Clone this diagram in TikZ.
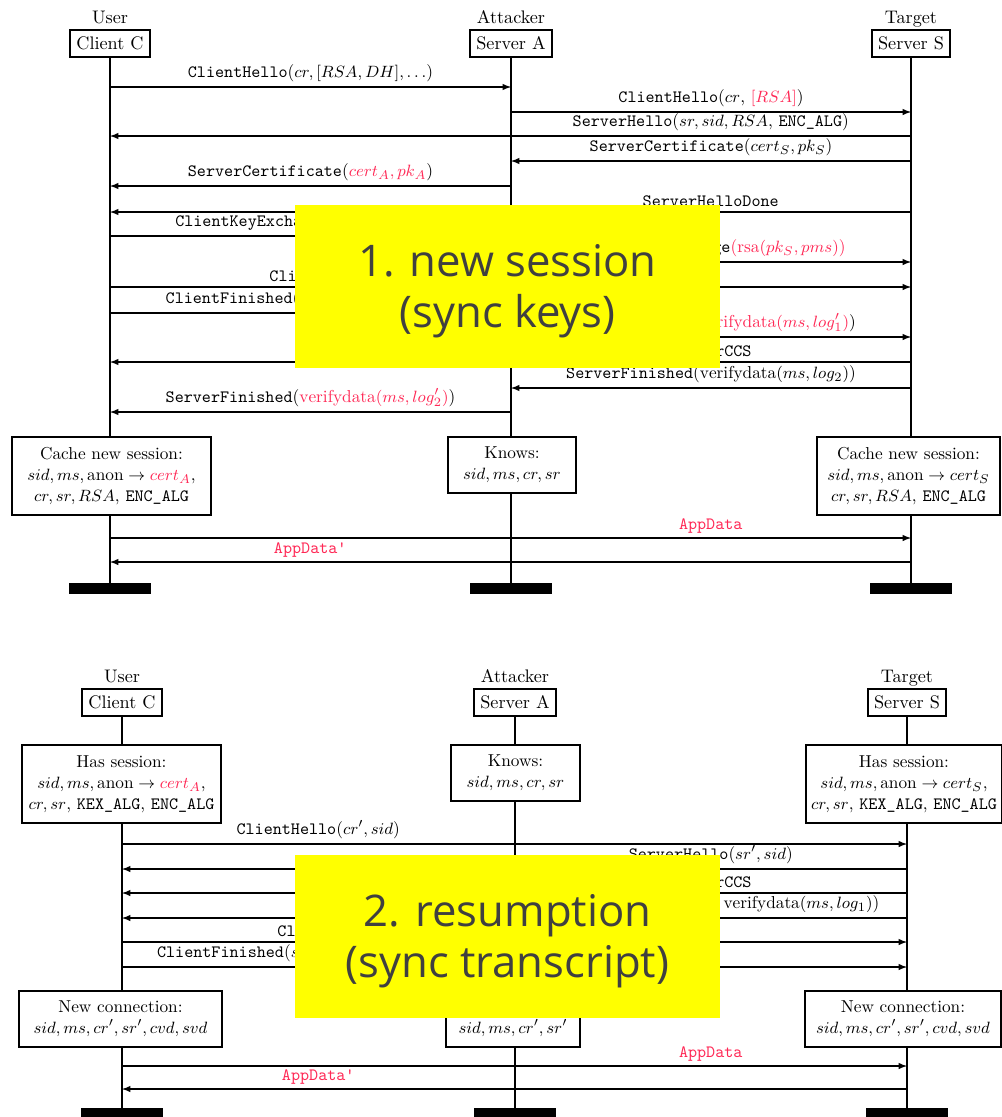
\documentclass[tikz,border=0pt]{standalone}
\usepackage{amsmath,amssymb}
\usepackage{fontspec}
\newfontfamily\notefont{Open Sans}
\usepackage{xcolor}
\usepackage{tikz}
\usetikzlibrary{positioning, calc}
\definecolor{evil}{RGB}{255,40,85}
\definecolor{stickie}{RGB}{255,255,0}
\definecolor{stickietext}{RGB}{64,64,64}
\newcommand{\evil}[1]{\textcolor{evil}{#1}}
\newcommand{\msgname}[1]{\texttt{#1}}
\newcommand{\lblsize}{\fontsize{9.5}{11.5}\selectfont}

\begin{document}
\begin{tikzpicture}[
    x = 0.55pt, y = -0.55pt, > = latex,
    agent/.style = {
      rectangle, draw, line width = 1pt, inner xsep = 3.5pt, inner ysep = 0pt,
      minimum height = 15pt, font = \fontsize{10}{12}\selectfont
    },
    role/.style = {
      inner sep = 3pt, text height = 7pt, text depth = 2pt,
      font = \fontsize{10}{12}\selectfont
    },
    lifeline/.style = {line width = 1pt},
    state/.style = {
      rectangle, draw, line width = 1pt, fill = white, align = center,
      inner sep = 3pt, font = \lblsize
    },
    endbar/.style = {
      rectangle, fill = black, inner sep = 0pt,
      minimum width = 45pt, minimum height = 6pt
    },
    msg/.style = {->, semithick},
    lbl/.style = {above, inner sep = 2.5pt, font = \lblsize},
    sticky/.style = {
      rectangle, fill = stickie, inner sep = 0pt,
      minimum width = 233.75pt, minimum height = 89.65pt
    },
    stickytext/.style = {
      text = stickietext, align = center, inner sep = 0pt,
      font = \notefont\fontsize{24}{28}\selectfont
    },
    ]

    \useasboundingbox (0,0) rectangle (1002,1117);

    % ---------------- 1. new session ----------------
    % draw agents
    \foreach \n/\x/\r/\t in {C1/110/User/Client C, A1/511/Attacker/Server A, S1/911/Target/Server S} {
      \node  [agent]  (\n)  at (\x,43.5)  {\t};
      \node  [role]  (\n role)  [above = -2pt of \n]  {\r};
      \node  [endbar]  (\n bar)  at (\x,588.5)  {};
      \draw  [lifeline]  (\n)  --  (\n bar);
    }

    % draw handshake
    \draw  [msg]  (C1 |- 0,87)  to node  [lbl]  {\msgname{ClientHello}($cr, [RSA, DH], \ldots$)}  (A1 |- 0,87);
    \draw  [msg]  (A1 |- 0,112)  to node  [lbl]  {\msgname{ClientHello}($cr$, \evil{$[RSA]$})}  (S1 |- 0,112);
    \draw  [msg]  (S1 |- 0,136)  to node  [lbl, pos = .25]  {\msgname{ServerHello}($sr, sid, RSA$, \msgname{ENC\_ALG})}  (C1 |- 0,136);
    \draw  [msg]  (S1 |- 0,161)  to node  [lbl]  {\msgname{ServerCertificate}($cert_S, pk_S$)}  (A1 |- 0,161);
    \draw  [msg]  (A1 |- 0,186)  to node  [lbl]  {\msgname{ServerCertificate}(\evil{$cert_A, pk_A$})}  (C1 |- 0,186);
    \draw  [msg]  (S1 |- 0,212)  to node  [lbl, pos = .25]  {\msgname{ServerHelloDone}}  (C1 |- 0,212);
    \draw  [msg]  (C1 |- 0,236)  to node  [lbl]  {\msgname{ClientKeyExchange}(\evil{$\mathrm{rsa}(pk_A, pms)$})}  (A1 |- 0,236);
    \draw  [msg]  (A1 |- 0,262)  to node  [lbl]  {\msgname{ClientKeyExchange}\evil{($\mathrm{rsa}(pk_S, pms)$)}}  (S1 |- 0,262);
    \draw  [msg]  (C1 |- 0,287)  to node  [lbl, pos = .25]  {\msgname{ClientCCS}}  (S1 |- 0,287);
    \draw  [msg]  (C1 |- 0,313)  to node  [lbl]  {\msgname{ClientFinished}($\mathrm{verifydata}(ms, log_1)$)}  (A1 |- 0,313);
    \draw  [msg]  (A1 |- 0,337)  to node  [lbl]  {\msgname{ClientFinished}(\evil{$\mathrm{verifydata}(ms, log'_1)$})}  (S1 |- 0,337);
    \draw  [msg]  (S1 |- 0,362)  to node  [lbl, pos = .25]  {\msgname{ServerCCS}}  (C1 |- 0,362);
    \draw  [msg]  (S1 |- 0,388)  to node  [lbl]  {\msgname{ServerFinished}($\mathrm{verifydata}(ms, log_2)$)}  (A1 |- 0,388);
    \draw  [msg]  (A1 |- 0,412)  to node  [lbl]  {\msgname{ServerFinished}(\evil{$\mathrm{verifydata}(ms, log'_2)$})}  (C1 |- 0,412);

    % draw session states
    \node  [state, minimum width = 109.5pt, minimum height = 43pt]  (C1cache)  at (111.5,476)
      {Cache new session:\\ $sid, ms, \mathrm{anon} \rightarrow \evil{cert_A}$,\\ $cr, sr, RSA$, \msgname{ENC\_ALG}};
    \node  [state, minimum width = 70.4pt, minimum height = 30.8pt]  (A1knows)  at (512,465)
      {Knows:\\ $sid, ms, cr, sr$};
    \node  [state, minimum width = 100.7pt, minimum height = 43pt]  (S1cache)  at (908.5,476)
      {Cache new session:\\ $sid, ms, \mathrm{anon} \rightarrow cert_S$\\ $cr, sr, RSA$, \msgname{ENC\_ALG}};

    % draw application data
    \draw  [msg]  (C1 |- 0,538)  to node  [lbl, pos = .75]  {\evil{\msgname{AppData}}}  (S1 |- 0,538);
    \draw  [msg]  (S1 |- 0,562)  to node  [lbl, pos = .75]  {\evil{\msgname{AppData'}}}  (C1 |- 0,562);

    % ---------------- 2. resumption ----------------
    % draw agents
    \foreach \n/\x/\r/\t in {C2/122/User/Client C, A2/515/Attacker/Server A, S2/907/Target/Server S} {
      \node  [agent]  (\n)  at (\x,702.5)  {\t};
      \node  [role]  (\n role)  [above = -2pt of \n]  {\r};
      \node  [endbar]  (\n bar)  at (\x,1113.5)  {};
      \draw  [lifeline]  (\n)  --  (\n bar);
    }

    % draw session states
    \node  [state, minimum width = 109.5pt, minimum height = 43pt]  (C2has)  at (121.5,784)
      {Has session:\\ $sid, ms, \mathrm{anon} \rightarrow \evil{cert_A}$,\\ $cr, sr$, \msgname{KEX\_ALG}, \msgname{ENC\_ALG}};
    \node  [state, minimum width = 71pt, minimum height = 30.8pt]  (A2knows)  at (515.5,773)
      {Knows:\\ $sid, ms, cr, sr$};
    \node  [state, minimum width = 106.7pt, minimum height = 43pt]  (S2has)  at (904,784)
      {Has session:\\ $sid, ms, \mathrm{anon} \rightarrow cert_S$,\\ $cr, sr$, \msgname{KEX\_ALG}, \msgname{ENC\_ALG}};

    % draw abbreviated handshake
    \draw  [msg]  (C2 |- 0,844)  to node  [lbl, pos = .25]  {\msgname{ClientHello}($cr', sid$)}  (S2 |- 0,844);
    \draw  [msg]  (S2 |- 0,869)  to node  [lbl, pos = .25]  {\msgname{ServerHello}($sr', sid$)}  (C2 |- 0,869);
    \draw  [msg]  (S2 |- 0,893)  to node  [lbl, pos = .25]  {\msgname{ServerCCS}}  (C2 |- 0,893);
    \draw  [msg]  (S2 |- 0,918)  to node  [lbl, pos = .25]  {\msgname{ServerFinished}($svd = \mathrm{verifydata}(ms, log_1)$)}  (C2 |- 0,918);
    \draw  [msg]  (C2 |- 0,942)  to node  [lbl, pos = .25]  {\msgname{ClientCCS}}  (S2 |- 0,942);
    \draw  [msg]  (C2 |- 0,967)  to node  [lbl, pos = .25]  {\msgname{ClientFinished}($svd, \mathrm{verifydata}(ms, log_2)$)}  (S2 |- 0,967);

    % draw new connection states
    \node  [state, minimum width = 111.7pt, minimum height = 30.8pt]  (C2new)  at (120.5,1019)
      {New connection:\\ $sid, ms, cr', sr', cvd, svd$};
    \node  [state, minimum width = 73.7pt, minimum height = 30.8pt]  (A2knew)  at (513,1019)
      {Knows:\\ $sid, ms, cr', sr'$};
    \node  [state, minimum width = 107.8pt, minimum height = 30.8pt]  (S2new)  at (903,1019)
      {New connection:\\ $sid, ms, cr', sr', cvd, svd$};

    % draw application data
    \draw  [msg]  (C2 |- 0,1066)  to node  [lbl, pos = .75]  {\evil{\msgname{AppData}}}  (S2 |- 0,1066);
    \draw  [msg]  (S2 |- 0,1089)  to node  [lbl, pos = .75]  {\evil{\msgname{AppData'}}}  (C2 |- 0,1089);

    % draw sticky notes
    \node  [sticky]  (note1)  at (507.5,286.5)  {};
    \node  [stickytext]  (note1text)  at ([yshift = -2.5pt]note1.center)  {1. new session\\(sync keys)};
    \node  [sticky]  (note2)  at (507.5,936.5)  {};
    \node  [stickytext]  (note2text)  at ([yshift = -2.5pt]note2.center)  {2. resumption\\(sync transcript)};

\end{tikzpicture}
\end{document}
